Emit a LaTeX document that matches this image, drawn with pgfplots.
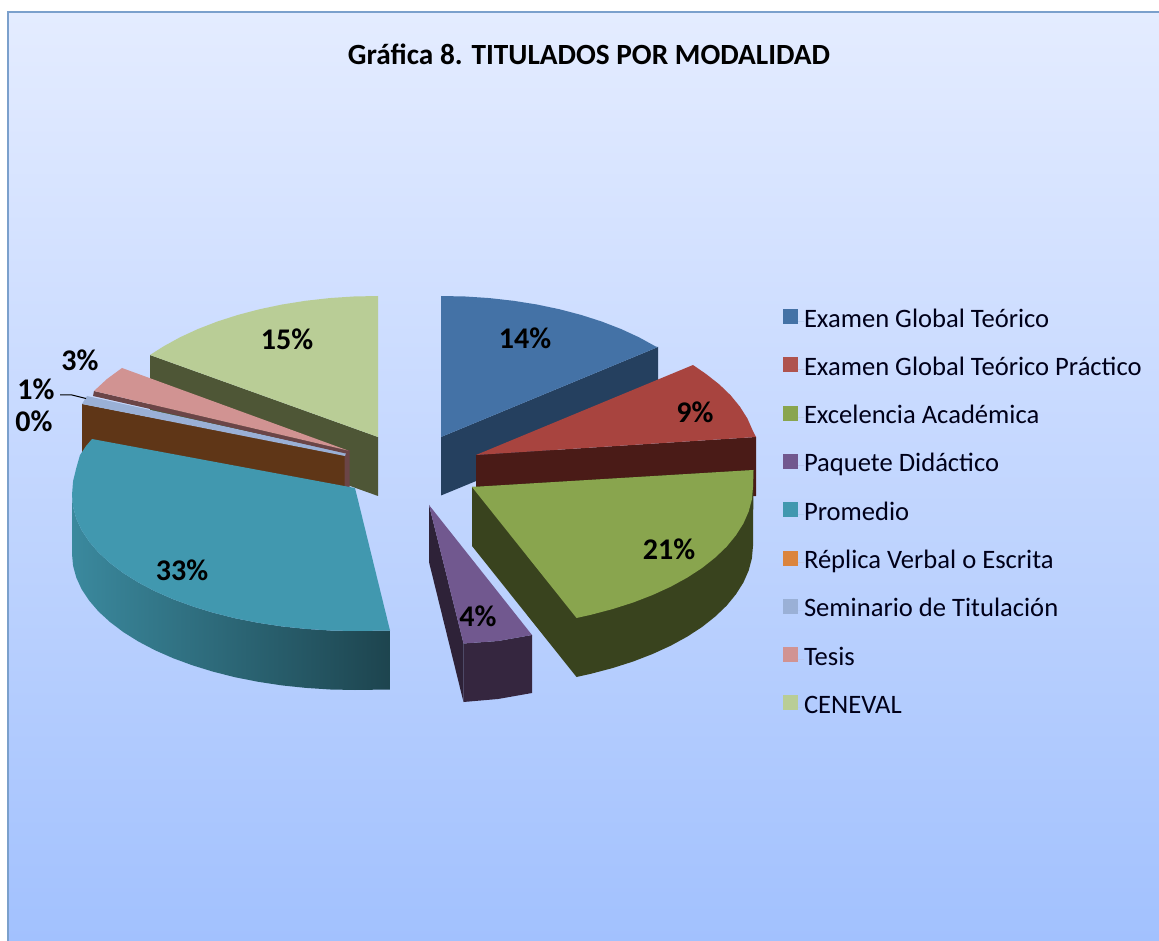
\documentclass[border=0pt]{standalone}
\usepackage{pgfplots}
\pgfplotsset{compat=1.18}
\usepackage{fontspec}
\setmainfont{Carlito}
\definecolor{cBlue}{HTML}{4472A6}\definecolor{cBlueS}{HTML}{25405F}
\definecolor{cRed}{HTML}{A8443F}\definecolor{cRedS}{HTML}{4A1B17}
\definecolor{cGreen}{HTML}{89A54E}\definecolor{cGreenS}{HTML}{39431E}
\definecolor{cPurple}{HTML}{71588F}\definecolor{cPurpleS}{HTML}{35263F}\definecolor{cPurpleL}{HTML}{2E2238}
\definecolor{cTeal}{HTML}{4198AF}
\definecolor{cOrange}{HTML}{DB843D}\definecolor{cBrown}{HTML}{5F3617}
\definecolor{cSlate}{HTML}{9AB0D6}
\definecolor{cPink}{HTML}{D19392}\definecolor{cPinkS}{HTML}{6B4547}
\definecolor{cLime}{HTML}{B9CD96}\definecolor{cLimeS}{HTML}{4E5636}
\definecolor{bgTop}{HTML}{E4ECFF}\definecolor{bgBot}{HTML}{A2C1FE}
\definecolor{frameC}{HTML}{7BA0CC}
\begin{document}
\begin{tikzpicture}[x=1pt,y=1pt]
\useasboundingbox (0,0) rectangle (1159,941);
\fill[white] (0,0) rectangle (1159,941);
\fill[top color=bgTop,bottom color=bgBot] (8,0) rectangle (1159,929);
\draw[frameC,line width=2pt] (8,0) -- (8,929) -- (1159,929);
\begin{axis}[at={(0pt,0pt)},anchor=south west,width=1159pt,height=941pt,scale only axis,
  xmin=0,xmax=1159,ymin=0,ymax=941,y dir=reverse,hide axis,clip=false,
  every axis plot/.append style={no markers,draw=none,line width=0pt},
  legend style={at={(axis cs:783,309)},anchor=north west,draw=none,fill=none,inner sep=0pt,outer sep=0pt,
    row sep=24.3pt,
    font=\fontsize{26.6}{30}\selectfont,text=black!90!blue,
    nodes={inner sep=0pt,text height=18pt,text depth=6pt}},
  legend cell align=left,
  legend image code/.code={\path (0pt,0pt) -- (21pt,0pt);\fill[#1] (0pt,-3pt) rectangle (15pt,12pt);},
  ]
% CENEVAL
\addplot[forget plot,fill=cLimeS] coordinates {(150,355)(378,437)(378,496)(150,414)};
\addplot[forget plot,fill=cLime] coordinates {(378,437)(378,296)(353.6,296.5)(329.4,298.1)(305.5,300.8)(282.2,304.5)(259.7,309.2)(238,314.9)(217.4,321.5)(198,329)(180,337.3)(163.5,346.4)(150,355)};
% Examen Global Teorico
\addplot[forget plot,fill=cBlueS] coordinates {(441,437)(658,347)(658,406)(441,495.5)};
\addplot[forget plot,fill=cBlue] coordinates {(441,437)(441,296)(465.4,296.5)(489.6,298.1)(513.5,300.8)(536.8,304.5)(559.3,309.2)(581,314.9)(601.6,321.5)(621,329)(639,337.3)(655.5,346.4)(658,347)};
% Teorico Practico
\addplot[forget plot,fill=cRedS] coordinates {(476,455)(756,437)(756,496)(476,514)};
\addplot[forget plot,fill=cRed] coordinates {(476,455)(693,365)(706.2,374.1)(719.4,384.5)(730.7,395.4)(740,406.8)(747.4,418.5)(752.7,430.5)(756,437)};
% Excelencia
\addplot[forget plot,fill=cGreenS] coordinates {(472,487)(753.5,470)(753,546)(751.9,558.3)(748.7,570.5)(743.4,582.5)(736,594.2)(726.7,605.6)(715.3,616.5)(702.2,626.9)(687.3,636.6)(670.7,645.7)(652.6,654)(633.2,661.5)(612.5,668.1)(590.8,673.8)(576.5,677)(472,546)};
\addplot[forget plot,fill=cGreen] coordinates {(472,487)(753.5,470)(753,487)(751.9,499.3)(748.7,511.5)(743.4,523.5)(736,535.2)(726.7,546.6)(715.3,557.5)(702.2,567.9)(687.3,577.6)(670.7,586.7)(652.6,595)(633.2,602.5)(612.5,609.1)(590.8,614.8)(576.5,618)};
% Paquete
\addplot[forget plot,fill=cPurpleL] coordinates {(429,505)(463.5,643.5)(463.5,702)(429,562)};
\addplot[forget plot,fill=cPurpleS] coordinates {(463.5,643.5)(498,641)(532,635)(532,693)(498,699)(463.5,702)};
\addplot[forget plot,fill=cPurple] coordinates {(429,505)(532,635)(498,641)(463.5,643.5)};
% Replica (0%)
\addplot[forget plot,fill=cBrown] coordinates {(82,404)(345,455)(345,514)(82,463)};
\addplot[forget plot,fill=cPinkS] coordinates {(344.5,451)(349.5,450)(349.5,489)(344.5,489)};
% Seminario
\addplot[forget plot,fill=cSlate] coordinates {(87,396)(82,404)(345,456)(346,453)};
% Tesis
\addplot[forget plot,fill=cPinkS] coordinates {(94,391)(348,450.5)(348,454)(93,396)};
\addplot[forget plot,fill=cPink] coordinates {(94,391)(107,379)(122,368)(348,450.5)};
% Promedio
\addplot[forget plot,shading=axis,shading angle=270,left color=cTeal!90!black,right color=cTeal!45!black]
  coordinates {(72,495)(73.1,506.9)(76.3,518.6)(81.6,530.2)(89.1,541.5)(98.5,552.5)(110,563)(123.2,573)(138.2,582.4)(154.9,591.2)(173.1,599.2)(192.7,606.4)(213.5,612.8)(235.4,618.3)(258.2,622.8)(281.8,626.4)(305.9,628.9)(330.3,630.5)(355,631)(390,630.5)(390,689.5)(355,690)(330.3,689.5)(305.9,687.9)(281.8,685.4)(258.2,681.8)(235.4,677.3)(213.5,671.8)(192.7,665.4)(173.1,658.2)(154.9,650.2)(138.2,641.4)(123.2,632)(110,622)(98.5,611.5)(89.1,600.5)(81.6,589.2)(76.3,577.6)(73.1,565.9)(72,554)};
\addplot[forget plot,fill=cTeal] coordinates {(355,488)(92,439)(86,446)(80,455)(76.3,468)(73.1,481)(72,495)(73.1,506.9)(76.3,518.6)(81.6,530.2)(89.1,541.5)(98.5,552.5)(110,563)(123.2,573)(138.2,582.4)(154.9,591.2)(173.1,599.2)(192.7,606.4)(213.5,612.8)(235.4,618.3)(258.2,622.8)(281.8,626.4)(305.9,628.9)(330.3,630.5)(355,631)(390,630.5)};
% leader
\addplot[forget plot,draw=black,line width=1pt] coordinates {(60,395)(72,395)(86,398.5)};
% legend
\addlegendimage{fill=cBlue}\addlegendentry{Examen Global Teórico}
\addlegendimage{fill=cRed!92!white}\addlegendentry{Examen Global Teórico Práctico}
\addlegendimage{fill=cGreen}\addlegendentry{Excelencia Académica}
\addlegendimage{fill=cPurple}\addlegendentry{Paquete Didáctico}
\addlegendimage{fill=cTeal}\addlegendentry{Promedio}
\addlegendimage{fill=cOrange}\addlegendentry{Réplica Verbal o Escrita}
\addlegendimage{fill=cSlate}\addlegendentry{Seminario de Titulación}
\addlegendimage{fill=cPink}\addlegendentry{Tesis}
\addlegendimage{fill=cLime}\addlegendentry{CENEVAL}
% labels
\node[font=\fontsize{29.3}{33}\selectfont\bfseries,text=black] at (axis cs:589,54) {Gráfica 8. TITULADOS POR MODALIDAD};
\foreach \x/\y/\t in {287/339/15,525/338/14,695/412/9,669/549/21,478/616/4,182/570/33,80/360/3,36/389/1,34/421/0}{
  \edef\temp{\noexpand\node[font=\noexpand\fontsize{30}{34}\noexpand\selectfont\noexpand\bfseries] at (axis cs:\x,\y) {\t\noexpand\%};}
  \temp
}
\end{axis}
\end{tikzpicture}
\end{document}
